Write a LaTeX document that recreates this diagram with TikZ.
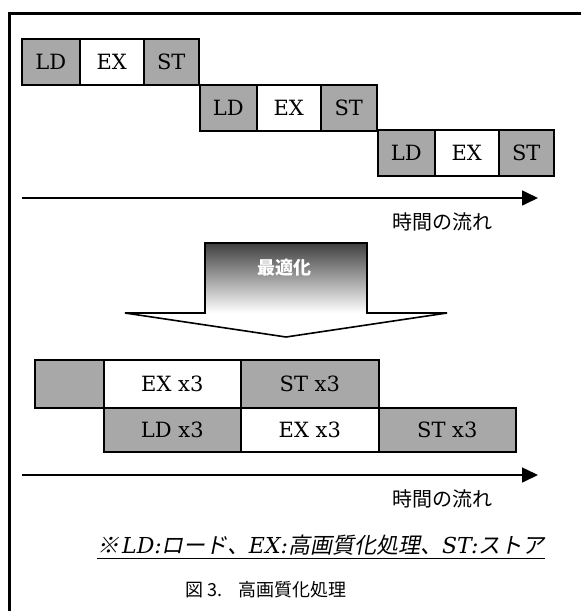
\documentclass[tikz,border=0pt]{standalone}
\usepackage{fontspec}
\setmainfont{DejaVu Serif}
\newfontfamily\jp{Noto Sans CJK JP}
\newfontfamily\jpit[FakeSlant=0.2]{Noto Sans CJK JP}
\usetikzlibrary{arrows.meta}
\definecolor{hg}{gray}{0.66}
\tikzset{
  gbox/.style={draw, line width=1.6pt, fill=hg, inner sep=0pt, anchor=north west,
    font=\fontsize{21}{24}\selectfont},
  wbox/.style={gbox, fill=white},
  tarrow/.style={line width=1.6pt, -{Triangle[length=16pt,width=15pt]}},
  jlabel/.style={font=\jp\fontsize{20}{24}\selectfont, inner sep=0pt},
}
\begin{document}
\begin{tikzpicture}[x=1pt,y=-1pt]
\useasboundingbox (0,0) rectangle (581,611);
% frame
\draw[line width=2.6pt] (9.5,611) -- (9.5,13.5) -- (581,13.5);
% row 1
\node[gbox, minimum width=58pt, minimum height=46pt] (r1ld) at (21,38) {LD};
\node[wbox, minimum width=64pt, minimum height=46pt] (r1ex) at (79,38) {EX};
\node[gbox, minimum width=55pt, minimum height=46pt] (r1st) at (143,38) {ST};
% row 2
\node[gbox, minimum width=57pt, minimum height=46pt] (r2ld) at (199,84) {LD};
\node[wbox, minimum width=64pt, minimum height=46pt] (r2ex) at (256,84) {EX};
\node[gbox, minimum width=56pt, minimum height=46pt] (r2st) at (320,84) {ST};
% row 3
\node[gbox, minimum width=57pt, minimum height=46pt] (r3ld) at (377,129) {LD};
\node[wbox, minimum width=64pt, minimum height=46pt] (r3ex) at (434,129) {EX};
\node[gbox, minimum width=55pt, minimum height=46pt] (r3st) at (498,129) {ST};
% time arrow 1
\coordinate (a1s) at (22,198);
\coordinate (a1e) at (538,198);
\draw[tarrow] (a1s) -- (a1e);
\node[jlabel] (t1) at (442,222) {時間の流れ};
% big arrow
\shade[top color=black!75, bottom color=white] (205,243) rectangle (367,313);
\fill[white] (125,313) -- (447,313) -- (286,337) -- cycle;
\draw[line width=1.6pt, line join=miter] (205,313) -- (205,243) -- (367,243) -- (367,313) -- (447,313) -- (286,337) -- (125,313) -- cycle;
\node[font=\jp\bfseries\fontsize{18}{22}\selectfont, text=white, inner sep=0pt] (opt) at (284,268) {最適化};
% bottom row A
\node[gbox, minimum width=69pt, minimum height=48pt] (bag) at (34,359) {};
\node[wbox, minimum width=137pt, minimum height=48pt] (baex) at (103,359) {EX x3};
\node[gbox, minimum width=138pt, minimum height=48pt] (bast) at (240,359) {ST x3};
% bottom row B
\node[gbox, minimum width=137pt, minimum height=44pt] (bbld) at (103,407) {LD x3};
\node[wbox, minimum width=138pt, minimum height=44pt] (bbex) at (240,407) {EX x3};
\node[gbox, minimum width=137pt, minimum height=44pt] (bbst) at (378,407) {ST x3};
% time arrow 2
\coordinate (a2s) at (22,475);
\coordinate (a2e) at (538,475);
\draw[tarrow] (a2s) -- (a2e);
\node[jlabel] (t2) at (442,499) {時間の流れ};
% note
\node[inner sep=0pt, anchor=west, font=\fontsize{22}{26}\selectfont] (note) at (97,545)
  {{\jpit ※}\kern3pt\textit{LD:}{\jpit ロード、}\textit{EX:}{\jpit 高画質化処理、}\textit{ST:}{\jpit ストア}};
\draw[line width=1.2pt] ([yshift=-3pt]note.south west) -- ([yshift=-3pt]note.south east);
% caption
\node[inner sep=0pt, anchor=west, font=\jp\fontsize{18}{22}\selectfont] (cap) at (185,590)
  {図 3.\hspace{0.9em}高画質化処理};
\end{tikzpicture}
\end{document}
